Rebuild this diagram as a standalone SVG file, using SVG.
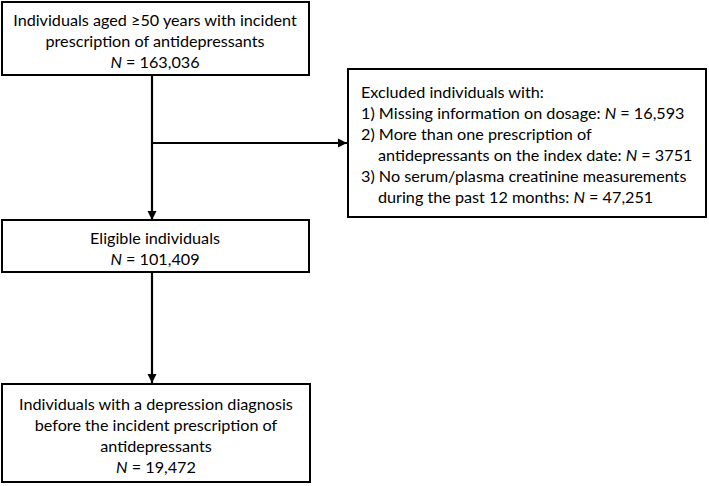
<svg xmlns="http://www.w3.org/2000/svg" width="709" height="486" viewBox="0 0 709 486">
<style>
.box{fill:#fff;stroke:#000;stroke-width:2}
.t{font-family:Lato,"Liberation Sans",sans-serif;font-size:16.2px;fill:#000}
.c{text-anchor:middle}
.ln{stroke:#000;stroke-width:2.2;fill:none}
</style>
<defs>
<marker id="ah" viewBox="0 0 10 10" refX="10" refY="5" markerWidth="4.2" markerHeight="4.2" orient="auto" markerUnits="strokeWidth">
<path d="M0,0 L10,5 L0,10 Z" fill="#000"/>
</marker>
</defs>
<g id="connectors">
<line class="ln" x1="152" y1="75" x2="152" y2="220" marker-end="url(#ah)"/>
<line class="ln" x1="152" y1="143" x2="347" y2="143" marker-end="url(#ah)"/>
<line class="ln" x1="152" y1="272" x2="152" y2="383" marker-end="url(#ah)"/>
</g>
<g id="n1">
<rect class="box" x="2" y="2" width="307" height="73"/>
<text class="t c" x="155" y="26">Individuals aged ≥50 years with incident</text>
<text class="t c" x="155" y="47">prescription of antidepressants</text>
<text class="t c" x="155" y="68"><tspan font-style="italic">N</tspan> = 163,036</text>
</g>
<g id="n2">
<rect class="box" x="348" y="69" width="358" height="148"/>
<text class="t" x="361" y="98">Excluded individuals with:</text>
<text class="t" x="361" y="119">1) Missing information on dosage: <tspan font-style="italic">N</tspan> = 16,593</text>
<text class="t" x="361" y="140">2) More than one prescription of</text>
<text class="t" x="378" y="161">antidepressants on the index date: <tspan font-style="italic">N</tspan> = 3751</text>
<text class="t" x="361" y="182">3) No serum/plasma creatinine measurements</text>
<text class="t" x="378" y="203">during the past 12 months: <tspan font-style="italic">N</tspan> = 47,251</text>
</g>
<g id="n3">
<rect class="box" x="2" y="220" width="307" height="52"/>
<text class="t c" x="155" y="244">Eligible individuals</text>
<text class="t c" x="155" y="265"><tspan font-style="italic">N</tspan> = 101,409</text>
</g>
<g id="n4">
<rect class="box" x="2" y="384" width="308" height="98"/>
<text class="t c" x="156" y="410">Individuals with a depression diagnosis</text>
<text class="t c" x="156" y="431">before the incident prescription of</text>
<text class="t c" x="156" y="452">antidepressants</text>
<text class="t c" x="156" y="473"><tspan font-style="italic">N</tspan> = 19,472</text>
</g>
</svg>
